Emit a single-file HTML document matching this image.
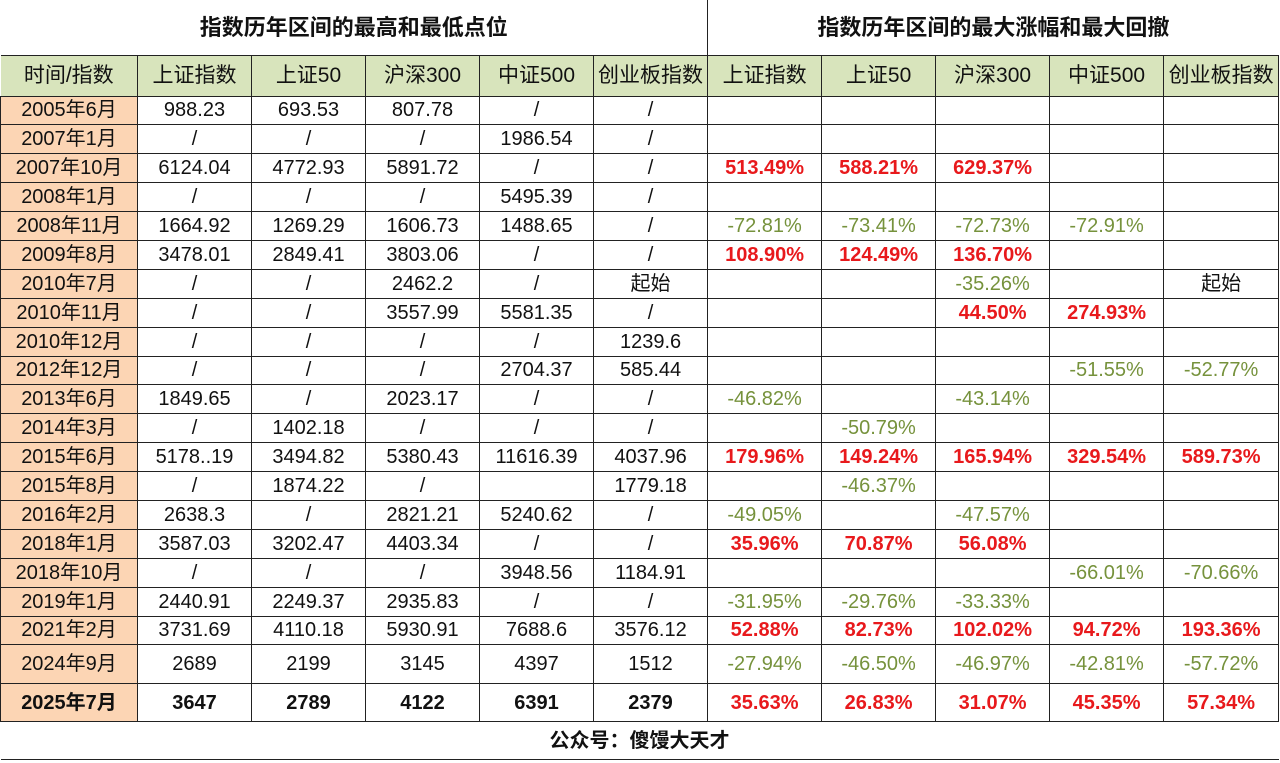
<!DOCTYPE html>
<html><head><meta charset="utf-8"><style>
body{margin:0;width:1280px;height:763px;background:#fff;overflow:hidden;font-family:"Liberation Sans","Noto Sans CJK SC",sans-serif;}
table{position:absolute;left:0;top:0;border-collapse:collapse;table-layout:fixed;width:1278px;}
td{border:1.5px solid #222;text-align:center;padding:0;font-size:20px;line-height:22px;color:#111;height:27.9px;white-space:nowrap;overflow:hidden;}
tr.title td{height:55px;font-size:22px;font-weight:bold;border-top:none;}
tr.hdr td{background:#d8e4bc;height:39.5px;font-size:21px;}
td.d{background:#fcd5b4;}
td.r{color:#e8191c;font-weight:bold;}
td.g{color:#76923c;}
tr.tall td{height:37.5px;}
tr.bold td{font-weight:bold;height:37.5px;}
tr.foot td{height:37px;font-weight:bold;font-size:20px;border-left:none;border-right:none;}
</style></head><body>
<table>
<colgroup><col style="width:137px"><col style="width:114px"><col style="width:114px"><col style="width:114px"><col style="width:114px"><col style="width:114px"><col style="width:114px"><col style="width:114px"><col style="width:114px"><col style="width:114px"><col style="width:115px"></colgroup>
<tr class="title"><td colspan="6" style="border-left:none">指数历年区间的最高和最低点位</td><td colspan="5" style="border-right:none">指数历年区间的最大涨幅和最大回撤</td></tr>
<tr class="hdr"><td style="border-left:none">时间/指数</td><td>上证指数</td><td>上证50</td><td>沪深300</td><td>中证500</td><td>创业板指数</td><td>上证指数</td><td>上证50</td><td>沪深300</td><td>中证500</td><td>创业板指数</td></tr>
<tr><td class="d">2005年6月</td><td>988.23</td><td>693.53</td><td>807.78</td><td>/</td><td>/</td><td></td><td></td><td></td><td></td><td></td></tr>
<tr><td class="d">2007年1月</td><td>/</td><td>/</td><td>/</td><td>1986.54</td><td>/</td><td></td><td></td><td></td><td></td><td></td></tr>
<tr><td class="d">2007年10月</td><td>6124.04</td><td>4772.93</td><td>5891.72</td><td>/</td><td>/</td><td class="r">513.49%</td><td class="r">588.21%</td><td class="r">629.37%</td><td></td><td></td></tr>
<tr><td class="d">2008年1月</td><td>/</td><td>/</td><td>/</td><td>5495.39</td><td>/</td><td></td><td></td><td></td><td></td><td></td></tr>
<tr><td class="d">2008年11月</td><td>1664.92</td><td>1269.29</td><td>1606.73</td><td>1488.65</td><td>/</td><td class="g">-72.81%</td><td class="g">-73.41%</td><td class="g">-72.73%</td><td class="g">-72.91%</td><td></td></tr>
<tr><td class="d">2009年8月</td><td>3478.01</td><td>2849.41</td><td>3803.06</td><td>/</td><td>/</td><td class="r">108.90%</td><td class="r">124.49%</td><td class="r">136.70%</td><td></td><td></td></tr>
<tr><td class="d">2010年7月</td><td>/</td><td>/</td><td>2462.2</td><td>/</td><td>起始</td><td></td><td></td><td class="g">-35.26%</td><td></td><td>起始</td></tr>
<tr><td class="d">2010年11月</td><td>/</td><td>/</td><td>3557.99</td><td>5581.35</td><td>/</td><td></td><td></td><td class="r">44.50%</td><td class="r">274.93%</td><td></td></tr>
<tr><td class="d">2010年12月</td><td>/</td><td>/</td><td>/</td><td>/</td><td>1239.6</td><td></td><td></td><td></td><td></td><td></td></tr>
<tr><td class="d">2012年12月</td><td>/</td><td>/</td><td>/</td><td>2704.37</td><td>585.44</td><td></td><td></td><td></td><td class="g">-51.55%</td><td class="g">-52.77%</td></tr>
<tr><td class="d">2013年6月</td><td>1849.65</td><td>/</td><td>2023.17</td><td>/</td><td>/</td><td class="g">-46.82%</td><td></td><td class="g">-43.14%</td><td></td><td></td></tr>
<tr><td class="d">2014年3月</td><td>/</td><td>1402.18</td><td>/</td><td>/</td><td>/</td><td></td><td class="g">-50.79%</td><td></td><td></td><td></td></tr>
<tr><td class="d">2015年6月</td><td>5178..19</td><td>3494.82</td><td>5380.43</td><td>11616.39</td><td>4037.96</td><td class="r">179.96%</td><td class="r">149.24%</td><td class="r">165.94%</td><td class="r">329.54%</td><td class="r">589.73%</td></tr>
<tr><td class="d">2015年8月</td><td>/</td><td>1874.22</td><td>/</td><td></td><td>1779.18</td><td></td><td class="g">-46.37%</td><td></td><td></td><td></td></tr>
<tr><td class="d">2016年2月</td><td>2638.3</td><td>/</td><td>2821.21</td><td>5240.62</td><td>/</td><td class="g">-49.05%</td><td></td><td class="g">-47.57%</td><td></td><td></td></tr>
<tr><td class="d">2018年1月</td><td>3587.03</td><td>3202.47</td><td>4403.34</td><td>/</td><td>/</td><td class="r">35.96%</td><td class="r">70.87%</td><td class="r">56.08%</td><td></td><td></td></tr>
<tr><td class="d">2018年10月</td><td>/</td><td>/</td><td>/</td><td>3948.56</td><td>1184.91</td><td></td><td></td><td></td><td class="g">-66.01%</td><td class="g">-70.66%</td></tr>
<tr><td class="d">2019年1月</td><td>2440.91</td><td>2249.37</td><td>2935.83</td><td>/</td><td>/</td><td class="g">-31.95%</td><td class="g">-29.76%</td><td class="g">-33.33%</td><td></td><td></td></tr>
<tr><td class="d">2021年2月</td><td>3731.69</td><td>4110.18</td><td>5930.91</td><td>7688.6</td><td>3576.12</td><td class="r">52.88%</td><td class="r">82.73%</td><td class="r">102.02%</td><td class="r">94.72%</td><td class="r">193.36%</td></tr>
<tr class="tall"><td class="d">2024年9月</td><td>2689</td><td>2199</td><td>3145</td><td>4397</td><td>1512</td><td class="g">-27.94%</td><td class="g">-46.50%</td><td class="g">-46.97%</td><td class="g">-42.81%</td><td class="g">-57.72%</td></tr>
<tr class="bold"><td class="d">2025年7月</td><td>3647</td><td>2789</td><td>4122</td><td>6391</td><td>2379</td><td class="r">35.63%</td><td class="r">26.83%</td><td class="r">31.07%</td><td class="r">45.35%</td><td class="r">57.34%</td></tr>
<tr class="foot"><td colspan="11">公众号：傻馒大天才</td></tr>
</table>
</body></html>
